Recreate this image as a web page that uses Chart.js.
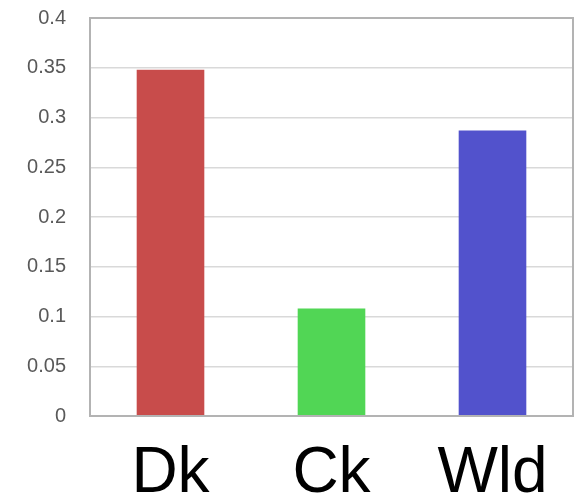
<!DOCTYPE html>
<html>
<head>
<meta charset="utf-8">
<script src="https://cdn.jsdelivr.net/npm/chart.js@4/dist/chart.umd.min.js"></script>
<style>
    html, body { margin: 0; padding: 0; background: #fff; }
    #wrap { width: 577px; height: 496px; }
</style>
</head>
<body>
<div id="wrap"><canvas id="bars"></canvas></div>
<script>
const categories = ['Dk', 'Ck', 'Wld'];
const values = [0.348, 0.108, 0.287];
const barColors = ['#C84C4B', '#51D655', '#5252CC'];
const yMin = 0;
const yMax = 0.4;
const yStep = 0.05;

// frame around the plot area
const plotFrame = {
    id: 'plotFrame',
    afterDatasetsDraw(chart) {
        const { ctx, chartArea: a } = chart;
        ctx.save();
        ctx.strokeStyle = '#b3b3b3';
        ctx.lineWidth = 2;
        ctx.strokeRect(a.left, a.top, a.right - a.left, a.bottom - a.top);
        ctx.restore();
    }
};

new Chart(document.getElementById('bars'), {
    type: 'bar',
    data: {
        labels: categories,
        datasets: [{
            data: values,
            backgroundColor: barColors,
            borderWidth: 0,
            categoryPercentage: 1,
            barPercentage: 0.42,
        }]
    },
    options: {
        responsive: true,
        maintainAspectRatio: false,
        animation: false,
        layout: { padding: { top: 18, right: 4, left: 0, bottom: 0 } },
        plugins: {
            legend: { display: false },
            tooltip: { enabled: false }
        },
        scales: {
            x: {
                grid: { display: false },
                border: { display: false },
                ticks: {
                    color: '#000',
                    padding: 12,
                    font: { size: 64, family: 'Liberation Sans' }
                },
                afterFit: s => { s.height = 80; s.paddingLeft = 0; s.paddingRight = 0; }
            },
            y: {
                min: yMin,
                max: yMax,
                grid: { color: '#d9d9d9', lineWidth: 1.5, drawTicks: false },
                border: { display: false },
                ticks: {
                    stepSize: yStep,
                    color: '#595959',
                    padding: 24,
                    font: { size: 20, family: 'Liberation Sans' },
                    callback: v => String(+v.toFixed(2))
                },
                afterFit: s => { s.width = 90; s.paddingTop = 0; s.paddingBottom = 0; }
            }
        }
    },
    plugins: [plotFrame]
});
</script>
</body>
</html>
